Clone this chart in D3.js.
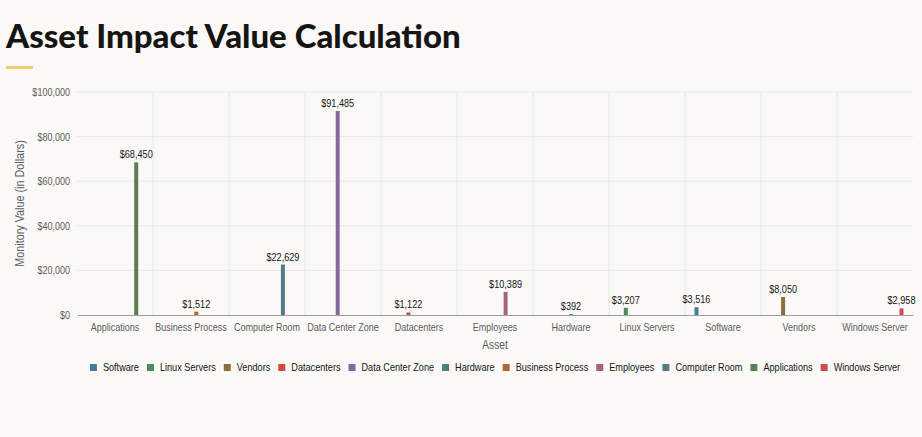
<!DOCTYPE html>
<html>
<head>
<meta charset="utf-8">
<script src="https://cdn.jsdelivr.net/npm/d3@7"></script>
<style>
    body { margin: 0; background: #faf9f8; }
    svg { display: block; font-family: "Liberation Sans", Arial, sans-serif; }
</style>
</head>
<body>
<div class="container"></div>
<script>
// Chart data
const assets = ["Applications", "Business Process", "Computer Room", "Data Center Zone", "Datacenters",
    "Employees", "Hardware", "Linux Servers", "Software", "Vendors", "Windows Server"];
const assetValues = [68450, 1512, 22629, 91485, 1122, 10389, 392, 3207, 3516, 8050, 2958];
// legend / series order
const seriesNames = ["Software", "Linux Servers", "Vendors", "Datacenters", "Data Center Zone", "Hardware",
    "Business Process", "Employees", "Computer Room", "Applications", "Windows Server"];
const seriesColors = ["#437c9c", "#4f8a5c", "#8b6e3e", "#cc4d3d", "#86689a", "#4b7f7b",
    "#b06437", "#a8637a", "#56798a", "#5f7e4f", "#c84e50"];
const yTicks = [0, 20000, 40000, 60000, 80000, 100000];

const svgWidth = 922, svgHeight = 437;
const margin = { top: 92, right: 9, bottom: 122, left: 77 };
const width = svgWidth - margin.left - margin.right;
const height = svgHeight - margin.top - margin.bottom;

// squeeze text horizontally, the original font is a narrow one
function condense(sel, k) {
    sel.each(function() {
        const len = this.getComputedTextLength();
        d3.select(this)
            .attr("textLength", len * k)
            .attr("lengthAdjust", "spacingAndGlyphs");
    });
}

const svg = d3.select(".container")
    .append("svg")
    .attr("width", svgWidth)
    .attr("height", svgHeight);

// Title + accent bar
svg.append("text")
    .attr("x", 6)
    .attr("y", 48)
    .attr("font-family", "Lato")
    .attr("font-size", 33)
    .attr("font-weight", 900)
    .attr("fill", "#161513")
    .text("Asset Impact Value Calculation");

svg.append("rect")
    .attr("x", 6).attr("y", 66)
    .attr("width", 27).attr("height", 3)
    .attr("fill", "#f0cc6e");

const chartGroup = svg.append("g")
    .attr("transform", `translate(${margin.left}, ${margin.top})`);

// Scales
const xScale = d3.scaleBand().domain(assets).range([0, width]);
const innerScale = d3.scaleBand()
    .domain(seriesNames)
    .range([xScale.bandwidth() * 0.125, xScale.bandwidth() * 0.875])
    .paddingInner(0.25);
const yScale = d3.scaleLinear().domain([0, 100000]).range([height, 0]);
const color = d3.scaleOrdinal().domain(seriesNames).range(seriesColors);
const fmt = v => "$" + d3.format(",")(v);

// Gridlines
chartGroup.append("g")
    .selectAll("line")
    .data(yTicks.slice(1))
    .enter()
    .append("line")
    .attr("x1", 0).attr("x2", width)
    .attr("y1", d => yScale(d)).attr("y2", d => yScale(d))
    .attr("stroke", "#e6e8ea");

chartGroup.append("g")
    .selectAll("line")
    .data(assets.slice(1))
    .enter()
    .append("line")
    .attr("x1", d => xScale(d)).attr("x2", d => xScale(d))
    .attr("y1", 0).attr("y2", height)
    .attr("stroke", "#e6e8ea");

// Axes
const leftAxis = d3.axisLeft(yScale).tickValues(yTicks).tickFormat(fmt).tickSize(0).tickPadding(7);
const yAxis = chartGroup.append("g").call(leftAxis).attr("font-family", null);
yAxis.select(".domain").remove();
yAxis.selectAll("text").attr("font-size", 11).attr("fill", "#5c5c5c").call(condense, 0.82);

const bottomAxis = d3.axisBottom(xScale).tickSize(0).tickPadding(8);
const xAxis = chartGroup.append("g")
    .attr("transform", `translate(0, ${height})`)
    .call(bottomAxis)
    .attr("font-family", null);
xAxis.select(".domain").attr("stroke", "#9e9e9e");
xAxis.selectAll("text").attr("font-size", 11).attr("fill", "#5c5c5c").call(condense, 0.82);

// Bars: each asset holds only its own series
const barData = assets.map((a, i) => ({ asset: a, value: assetValues[i] }));

chartGroup.append("g")
    .selectAll("rect")
    .data(barData)
    .enter()
    .append("rect")
    .attr("x", d => xScale(d.asset) + innerScale(d.asset))
    .attr("y", d => yScale(d.value))
    .attr("width", innerScale.bandwidth())
    .attr("height", d => height - yScale(d.value))
    .attr("fill", d => color(d.asset));

chartGroup.append("g")
    .selectAll("text")
    .data(barData)
    .enter()
    .append("text")
    .attr("x", d => xScale(d.asset) + innerScale(d.asset) + innerScale.bandwidth() / 2)
    .attr("y", d => yScale(d.value) - 4)
    .attr("text-anchor", "middle")
    .attr("font-size", 11)
    .attr("fill", "#161513")
    .text(d => fmt(d.value))
    .call(condense, 0.83);

// Axis titles
chartGroup.append("text")
    .attr("x", width / 2)
    .attr("y", height + 34)
    .attr("text-anchor", "middle")
    .attr("font-size", 12)
    .attr("fill", "#5c5c5c")
    .text("Asset")
    .call(condense, 0.85);

chartGroup.append("text")
    .attr("transform", "rotate(-90)")
    .attr("x", -height / 2)
    .attr("y", -53)
    .attr("text-anchor", "middle")
    .attr("font-size", 12)
    .attr("fill", "#5c5c5c")
    .text("Monitory Value (in Dollars)")
    .call(condense, 0.9);

// Legend
const legend = svg.append("g");
const items = legend.selectAll("g")
    .data(seriesNames)
    .enter()
    .append("g");
items.append("rect")
    .attr("width", 7).attr("height", 7)
    .attr("y", -7)
    .attr("fill", d => color(d));
items.append("text")
    .attr("x", 13)
    .attr("font-size", 11)
    .attr("fill", "#161513")
    .text(d => d)
    .call(condense, 0.83);

let offset = 0;
items.each(function() {
    const w = 13 + (+d3.select(this).select("text").attr("textLength"));
    d3.select(this).attr("transform", `translate(${offset}, 0)`);
    offset += w + 8;
});
const legendWidth = offset - 8;
legend.attr("transform", `translate(${margin.left + width / 2 - legendWidth / 2}, 371)`);
</script>
</body>
</html>
